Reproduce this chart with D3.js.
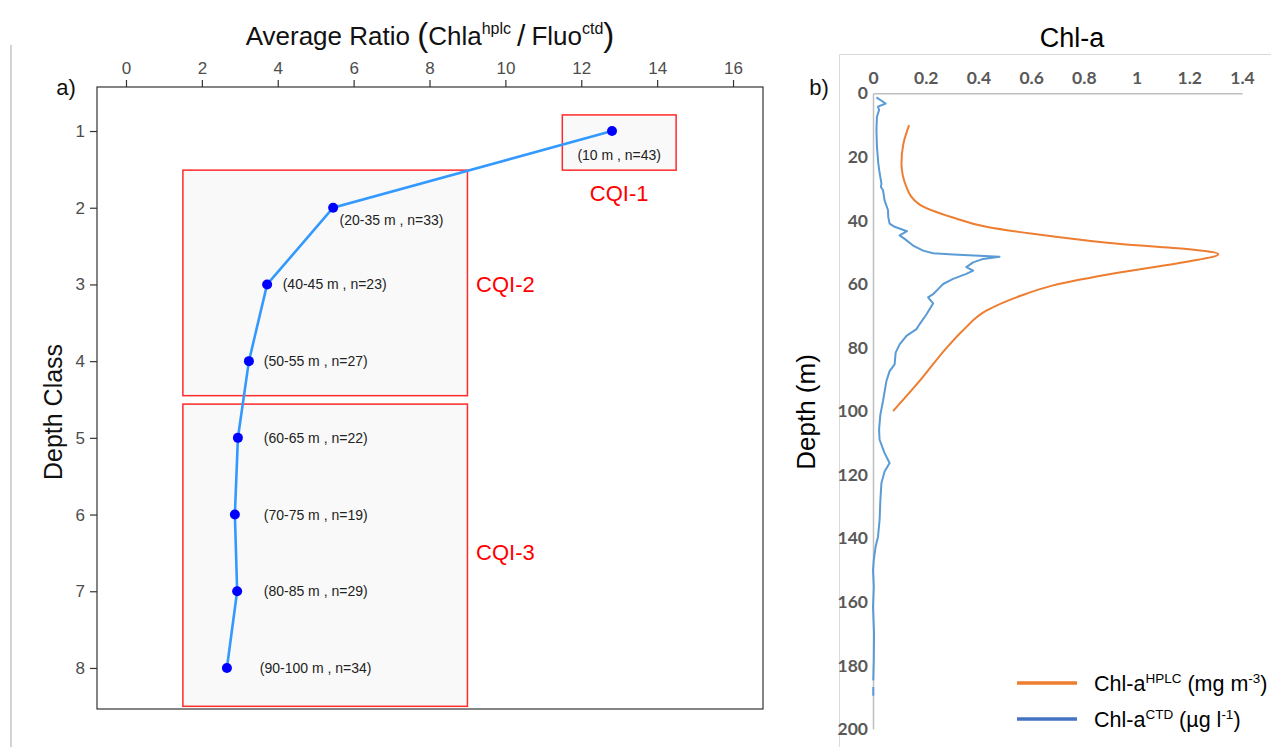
<!DOCTYPE html>
<html>
<head>
<meta charset="utf-8">
<script src="https://cdn.jsdelivr.net/npm/d3@7"></script>
<style>
  html, body { margin: 0; padding: 0; background: #ffffff; }
  svg { display: block; }
</style>
</head>
<body>
<svg id="chart" width="1271" height="747"></svg>
<script>
// ---------- Panel a) data ----------
const depthClass = [1, 2, 3, 4, 5, 6, 7, 8];
const avgRatio = [12.81, 5.46, 3.72, 3.24, 2.95, 2.87, 2.93, 2.66];
const classLabels = ["(10 m , n=43)", "(20-35 m , n=33)", "(40-45 m , n=23)", "(50-55 m , n=27)",
                     "(60-65 m , n=22)", "(70-75 m , n=19)", "(80-85 m , n=29)", "(90-100 m , n=34)"];
const labelRatio = [13, 7, 5.5, 5, 5, 5, 5, 5];
const labelClass = [1.31, 2.16, 3, 4, 5, 6, 7, 8];
const ratioTicks = [0, 2, 4, 6, 8, 10, 12, 14, 16];
const classTicks = [1, 2, 3, 4, 5, 6, 7, 8];

const cqiNames = ["CQI-1", "CQI-2", "CQI-3"];
const cqiRatioMin = [11.5, 1.5, 1.5];
const cqiRatioMax = [14.5, 9.0, 9.0];
const cqiClassMin = [0.79, 1.51, 4.56];
const cqiClassMax = [1.51, 4.45, 8.5];
const cqiLabelRatio = [13, 10, 10];
const cqiLabelClass = [1.81, 3, 6.5];

// ---------- Panel b) data ----------
const hplcDepth = [10, 16, 22, 29.5, 35, 39, 42, 45, 47.4, 49, 50.6, 53, 56.3, 60.5, 63.7, 68.4, 74.7, 80, 90.5, 100];
const hplcValue = [0.137, 0.115, 0.108, 0.127, 0.177, 0.30, 0.43, 0.68, 0.94, 1.19, 1.31, 1.19, 0.94, 0.68, 0.56, 0.43, 0.34, 0.28, 0.177, 0.076];

const ctdDepth = [1.3, 3.2, 4.2, 5.3, 7.4, 11.6, 16.8, 22, 25, 28.4, 29.5, 30.5, 33.7, 36.8, 39, 41, 42, 43.4, 44.7, 45.8,
                  47.9, 49.5, 50.3, 50.7, 51.4, 52.1, 53.2, 54.7, 55.8, 56.8, 58.4, 60, 61.6, 63.2, 64.2, 66.1, 69.5, 72.6,
                  74.2, 76.3, 79, 81.6, 85.3, 87.4, 90.5, 96.8, 101, 105.8, 109, 113.2, 116.3, 119, 122.6, 127.9, 134.2,
                  139.5, 142.6, 146.8, 150, 155.3, 161.6, 170, 178.4, 184.7, 185.8, 186.8, 189.5];
const ctdValue = [0.013, 0.048, 0.019, 0.023, 0.015, 0.013, 0.015, 0.020, 0.025, 0.032, 0.030, 0.038, 0.044, 0.057, 0.058,
                  0.063, 0.082, 0.129, 0.101, 0.120, 0.152, 0.19, 0.228, 0.304, 0.48, 0.418, 0.38, 0.354, 0.38, 0.354,
                  0.304, 0.266, 0.247, 0.228, 0.209, 0.228, 0.203, 0.177, 0.165, 0.127, 0.101, 0.086, 0.082, 0.063,
                  0.051, 0.038, 0.028, 0.023, 0.025, 0.044, 0.063, 0.044, 0.032, 0.028, 0.025, 0.019, 0.010, 0.003,
                  0.0, 0.003, 0.0, 0.004, 0.003, 0.001, null, 0.001, 0.001];
const chlTicks = [0, 0.2, 0.4, 0.6, 0.8, 1, 1.2, 1.4];
const depthTicks = [0, 20, 40, 60, 80, 100, 120, 140, 160, 180, 200];

const svg = d3.select("#chart");
const SANS = "'Liberation Sans', Arial, sans-serif";

// ---------- frame lines ----------
svg.append("line").attr("x1", 11).attr("x2", 11).attr("y1", 45).attr("y2", 747)
  .attr("stroke", "#c4c4c4").attr("stroke-width", 1.5);
svg.append("path").attr("d", "M839.5,747 V54.5 H1271")
  .attr("fill", "none").attr("stroke", "#d9d9d9").attr("stroke-width", 1);

// ================= Panel a =================
const ax = d3.scaleLinear().domain([-0.764, 16.79]).range([97, 763]);
const ay = d3.scaleLinear().domain([0.426, 8.535]).range([87, 709]);
const ga = svg.append("g");

// CQI boxes
cqiNames.forEach((n, i) => {
  ga.append("rect")
    .attr("x", ax(cqiRatioMin[i])).attr("y", ay(cqiClassMin[i]))
    .attr("width", ax(cqiRatioMax[i]) - ax(cqiRatioMin[i]))
    .attr("height", ay(cqiClassMax[i]) - ay(cqiClassMin[i]))
    .attr("fill", "#f9f9f9").attr("stroke", "#ff2a2a").attr("stroke-width", 1.5);
  ga.append("text")
    .attr("x", ax(cqiLabelRatio[i])).attr("y", ay(cqiLabelClass[i]))
    .attr("text-anchor", "middle").attr("dominant-baseline", "central")
    .attr("font-family", SANS).attr("font-size", 22).attr("fill", "#ff0000")
    .text(n);
});

// plot border
ga.append("rect").attr("x", 97).attr("y", 87).attr("width", 666).attr("height", 622)
  .attr("fill", "none").attr("stroke", "#333333").attr("stroke-width", 1.2);

// axes
const topAxis = ga.append("g").attr("transform", "translate(0,87)")
  .call(d3.axisTop(ax).tickValues(ratioTicks).tickSize(7).tickPadding(6).tickFormat(d3.format("d")));
const leftAxis = ga.append("g").attr("transform", "translate(97,0)")
  .call(d3.axisLeft(ay).tickValues(classTicks).tickSize(7).tickPadding(5).tickFormat(d3.format("d")));
[topAxis, leftAxis].forEach(g => {
  g.select(".domain").remove();
  g.selectAll(".tick line").attr("stroke", "#333333").attr("stroke-width", 1.2);
  g.selectAll(".tick text").attr("fill", "#4d4d4d").attr("font-family", SANS).attr("font-size", 17);
});

// line + points
const pts = depthClass.map((c, i) => ({ c: c, r: avgRatio[i] }));
ga.append("path").datum(pts)
  .attr("d", d3.line().x(d => ax(d.r)).y(d => ay(d.c)))
  .attr("fill", "none").attr("stroke", "#3399ff").attr("stroke-width", 2.6);
ga.selectAll("circle.pt").data(pts).enter().append("circle")
  .attr("cx", d => ax(d.r)).attr("cy", d => ay(d.c)).attr("r", 5).attr("fill", "#0000ff");

// point labels
ga.selectAll("text.lab").data(classLabels).enter().append("text")
  .attr("x", (d, i) => ax(labelRatio[i])).attr("y", (d, i) => ay(labelClass[i]))
  .attr("text-anchor", "middle").attr("dominant-baseline", "central")
  .attr("font-family", SANS).attr("font-size", 14).attr("fill", "#222222")
  .text(d => d);

// title
const ta = svg.append("text").attr("x", 430).attr("y", 45).attr("text-anchor", "middle")
  .attr("font-family", SANS).attr("font-size", 26).attr("fill", "#111111");
ta.append("tspan").text("Average Ratio ");
ta.append("tspan").attr("font-size", 33).attr("dy", 1).text("(");
ta.append("tspan").attr("dy", -1).text("Chla");
ta.append("tspan").attr("font-size", 16).attr("dy", -11).text("hplc");
ta.append("tspan").attr("font-size", 30).attr("dy", 12).text("\u2009/\u2009");
ta.append("tspan").attr("dy", -1).text("Fluo");
ta.append("tspan").attr("font-size", 16).attr("dy", -11).text("ctd");
ta.append("tspan").attr("font-size", 33).attr("dy", 12).text(")");

svg.append("text").attr("transform", "translate(62,412) rotate(-90)")
  .attr("text-anchor", "middle").attr("font-family", SANS).attr("font-size", 25).attr("fill", "#111111")
  .text("Depth Class");
svg.append("text").attr("x", 66).attr("y", 95).attr("text-anchor", "middle")
  .attr("font-family", SANS).attr("font-size", 22).attr("fill", "#111111").text("a)");

// ================= Panel b =================
const bx = d3.scaleLinear().domain([0, 1.4]).range([873, 1242]);
const by = d3.scaleLinear().domain([0, 200]).range([93.3, 729]);
const gb = svg.append("g");
const LATO = "Lato, 'Open Sans', sans-serif";

const bTop = gb.append("g").attr("transform", "translate(0,93.3)")
  .call(d3.axisTop(bx).tickValues(chlTicks).tickSize(0).tickPadding(9).tickFormat(d => d3.format("~g")(d)));
const bLeft = gb.append("g").attr("transform", "translate(873,0)")
  .call(d3.axisLeft(by).tickValues(depthTicks).tickSize(0).tickPadding(5).tickFormat(d3.format("d")));
[bTop, bLeft].forEach(g => {
  g.select(".domain").attr("stroke", "#bfbfbf").attr("stroke-width", 1.5);
  g.selectAll(".tick text").attr("fill", "#595959").attr("font-family", LATO)
    .attr("font-weight", "bold").attr("font-size", 17.5);
});

const hplc = hplcDepth.map((d, i) => ({ d: d, v: hplcValue[i] }));
gb.append("path").datum(hplc)
  .attr("d", d3.line().curve(d3.curveMonotoneY).x(d => bx(d.v)).y(d => by(d.d)))
  .attr("fill", "none").attr("stroke", "#ed7d31").attr("stroke-width", 2);

const ctd = ctdDepth.map((d, i) => ({ d: d, v: ctdValue[i] }));
gb.append("path").datum(ctd)
  .attr("d", d3.line().defined(d => d.v !== null).x(d => bx(d.v)).y(d => by(d.d)))
  .attr("fill", "none").attr("stroke", "#5b9bd5").attr("stroke-width", 2).attr("stroke-linejoin", "round");

// titles
svg.append("text").attr("x", 1072).attr("y", 47).attr("text-anchor", "middle")
  .attr("font-family", SANS).attr("font-size", 27).attr("fill", "#000000").text("Chl-a");
svg.append("text").attr("transform", "translate(815,412) rotate(-90)")
  .attr("text-anchor", "middle").attr("font-family", SANS).attr("font-size", 26).attr("fill", "#000000")
  .text("Depth (m)");
svg.append("text").attr("x", 819).attr("y", 95).attr("text-anchor", "middle")
  .attr("font-family", SANS).attr("font-size", 22).attr("fill", "#111111").text("b)");

// legend
const legendItems = [
  { color: "#ed7d31", name: "Chl-a", sup1: "HPLC", unit: " (mg m", sup2: "-3", end: ")" },
  { color: "#4472c4", name: "Chl-a", sup1: "CTD", unit: " (\u00b5g l", sup2: "-1", end: ")" }
];
legendItems.forEach((it, i) => {
  const yy = 683 + i * 36;
  svg.append("line").attr("x1", 1017).attr("x2", 1077).attr("y1", yy).attr("y2", yy)
    .attr("stroke", it.color).attr("stroke-width", 3.5);
  const t = svg.append("text").attr("x", 1094).attr("y", yy + 8)
    .attr("font-family", SANS).attr("font-size", 21.5).attr("fill", "#000000");
  t.append("tspan").text(it.name);
  t.append("tspan").attr("font-size", 13.5).attr("dy", -8).text(it.sup1);
  t.append("tspan").attr("dy", 8).text(it.unit);
  t.append("tspan").attr("font-size", 13.5).attr("dy", -8).text(it.sup2);
  t.append("tspan").attr("dy", 8).text(it.end);
});
</script>
</body>
</html>
